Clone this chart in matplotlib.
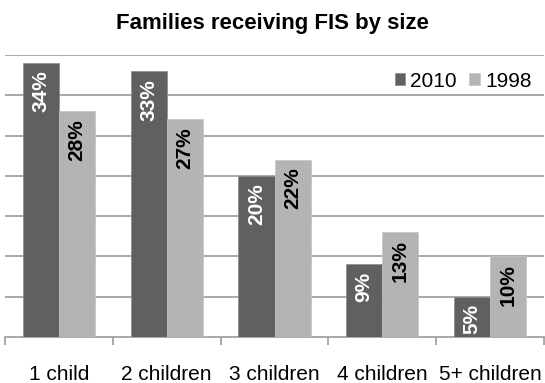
import matplotlib
matplotlib.use('Agg')
import matplotlib.pyplot as plt
import numpy as np

# data
categories = ['1 child', '2 children', '3 children', '4 children', '5+ children']
series_names = ['2010', '1998']
values_2010 = [34, 33, 20, 9, 5]
values_1998 = [28, 27, 22, 13, 10]

dark = '#606060'
light = '#b4b4b4'
grid_col = '#a3a3a3'

rcParams = {
    'figure.figsize': [5.45, 3.83],
    'figure.dpi': 100,
    'font.family': ['Liberation Sans', 'DejaVu Sans'],
    'font.size': 15,
    'axes.spines.left': False,
    'axes.spines.right': False,
    'axes.spines.top': False,
    'axes.spines.bottom': True,
    'axes.edgecolor': grid_col,
    'axes.linewidth': 1.3,
}
plt.rcParams.update(rcParams)

fig = plt.figure()
W, H = 545, 383
ax = fig.add_axes([5 / W, (H - 337) / H, (544 - 5) / W, (337 - 55) / H])

x = np.arange(len(categories))
bw = 0.335
bars_a = ax.bar(x - bw / 2, values_2010, bw, color=dark, edgecolor='#8a8a8a',
                linewidth=0.5, label=series_names[0], zorder=3)
bars_b = ax.bar(x + bw / 2, values_1998, bw, color=light, edgecolor='#c4c4c4',
                linewidth=0.5, label=series_names[1], zorder=3)

# value labels inside the bars, rotated
for rect, v in zip(bars_a, values_2010):
    ax.annotate(f'{v}%', (rect.get_x() + rect.get_width() / 2, v),
                xytext=(0, -5.5), textcoords='offset points',
                rotation=90, ha='center', va='top', color='white',
                fontsize=15, fontweight='bold', zorder=4)
for rect, v in zip(bars_b, values_1998):
    ax.annotate(f'{v}%', (rect.get_x() + rect.get_width() / 2, v),
                xytext=(0, -5.5), textcoords='offset points',
                rotation=90, ha='center', va='top', color='black',
                fontsize=15, fontweight='bold', zorder=4)

ax.set_xlim(-0.5, len(categories) - 0.5)
ax.set_ylim(0, 35)

# horizontal grid every 5%
ax.set_yticks(np.arange(5, 36, 5))
ax.yaxis.grid(True, color=grid_col, linewidth=1.3, zorder=0)
ax.tick_params(axis='y', left=False, labelleft=False)

# boundary ticks as majors, category names on minors
ax.set_xticks(np.arange(len(categories) + 1) - 0.5)
ax.set_xticklabels([])
ax.set_xticks(x, minor=True)
ax.set_xticklabels(categories, minor=True)
ax.tick_params(axis='x', which='major', direction='out', length=6,
               width=1.3, color=grid_col)
ax.tick_params(axis='x', which='minor', length=0, pad=20.5, labelsize=15)

ax.legend(loc='upper right', bbox_to_anchor=(1.0, 0.985), ncol=2, frameon=False,
          fontsize=15, handlelength=0.5, handleheight=0.5, handletextpad=0.25,
          columnspacing=0.6, borderaxespad=0.2)

fig.text(0.5, 1 - 24 / H, 'Families receiving FIS by size', ha='center',
         va='center', fontsize=16, fontweight='bold')

plt.savefig('out.png', dpi=100)
